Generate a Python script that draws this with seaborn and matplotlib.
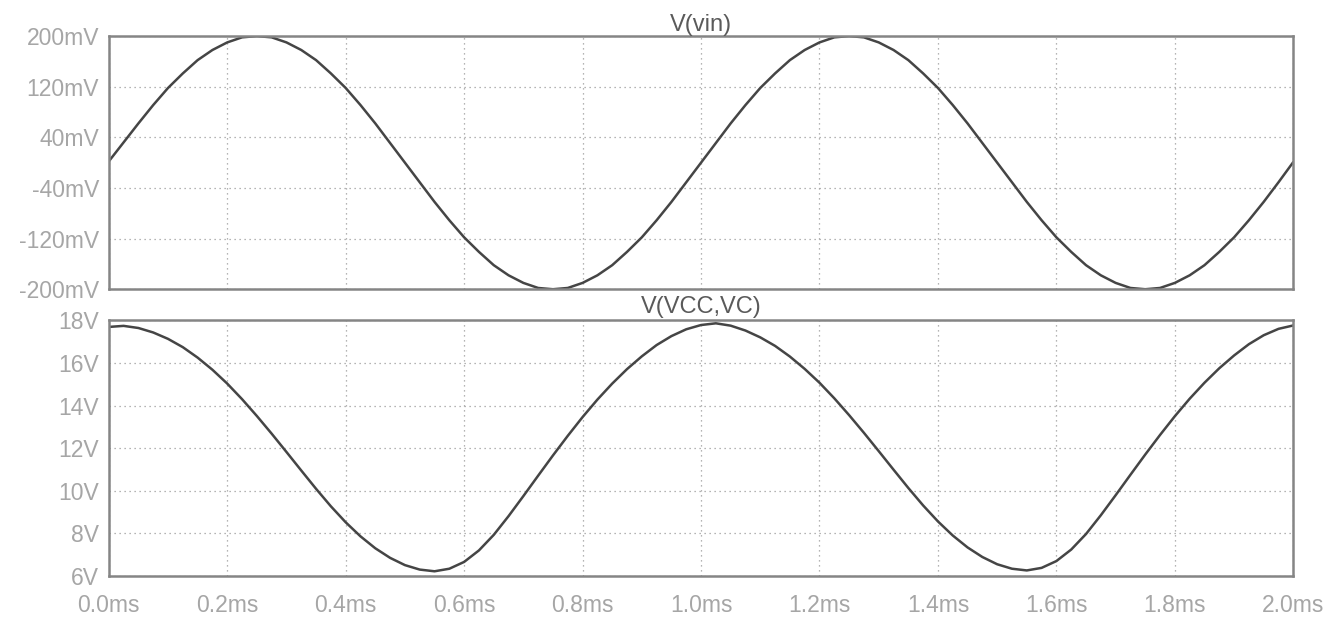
import numpy as np
import pandas as pd
import matplotlib
import seaborn as sns

matplotlib.use('Agg')
import matplotlib.pyplot as plt
from matplotlib.ticker import FuncFormatter

# time axis, ms (0.025 ms steps)
time_ms = [round(i * 0.025, 3) for i in range(81)]

# V(vin) in mV
vin_mv = [
    2, 32, 62, 91, 118, 141, 162, 178, 190, 198,
    200, 198, 190, 178, 162, 141, 118, 91, 62, 31,
    0, -31, -62, -91, -118, -141, -162, -178, -190, -198,
    -200, -198, -190, -178, -162, -141, -118, -91, -62, -31,
    0, 31, 62, 91, 118, 141, 162, 178, 190, 198,
    200, 198, 190, 178, 162, 141, 118, 91, 62, 31,
    0, -31, -62, -91, -118, -141, -162, -178, -190, -198,
    -200, -198, -190, -178, -162, -141, -118, -91, -62, -31,
    1,
]

# V(VCC,VC) in V
vcc_vc = [
    17.69, 17.74, 17.64, 17.43, 17.13, 16.74, 16.25, 15.68, 15.03, 14.30,
    13.51, 12.68, 11.82, 10.95, 10.09, 9.27, 8.52, 7.86, 7.30, 6.85,
    6.51, 6.30, 6.22, 6.34, 6.66, 7.20, 7.93, 8.81, 9.75, 10.71,
    11.66, 12.58, 13.46, 14.28, 15.03, 15.71, 16.31, 16.84, 17.26, 17.58,
    17.78, 17.86, 17.75, 17.52, 17.20, 16.80, 16.30, 15.72, 15.07, 14.34,
    13.55, 12.72, 11.86, 10.99, 10.13, 9.31, 8.56, 7.90, 7.34, 6.89,
    6.55, 6.34, 6.26, 6.38, 6.70, 7.24, 7.97, 8.85, 9.79, 10.75,
    11.70, 12.62, 13.50, 14.32, 15.07, 15.75, 16.35, 16.88, 17.30, 17.60,
    17.76,
]

vin_ticks = [-200, -120, -40, 40, 120, 200]
vcc_ticks = [6, 8, 10, 12, 14, 16, 18]
time_ticks = [0.0, 0.2, 0.4, 0.6, 0.8, 1.0, 1.2, 1.4, 1.6, 1.8, 2.0]

trace_color = '#454545'
frame_color = '#858585'
label_color = '#a6a6a6'
grid_color = '#9c9c9c'


def style_axes(ax, yticks, fmt):
    ax.set_xlim(0, 2.0)
    ax.set_ylim(yticks[0], yticks[-1])
    ax.set_yticks(yticks)
    ax.set_xticks(time_ticks)
    ax.yaxis.set_major_formatter(FuncFormatter(fmt))
    ax.xaxis.set_major_formatter(FuncFormatter(lambda v, p: f'{v:.1f}ms'))
    ax.grid(True, color=grid_color, linestyle=(0, (1, 3)), linewidth=0.9)
    for s in ax.spines.values():
        s.set_color(frame_color)
        s.set_linewidth(1.8)
    ax.tick_params(axis='y', direction='out', length=7, width=1.5, color=frame_color,
                   labelcolor=label_color, labelsize=16.5, pad=0)
    ax.tick_params(axis='x', direction='inout', length=22, width=1.5, color=frame_color,
                   labelcolor=label_color, labelsize=16.5, pad=2)
    ax.set_xlabel('')
    ax.set_ylabel('')


def main():
    sns.set_style('white')
    plt.rcParams['font.family'] = ['Liberation Sans', 'DejaVu Sans']

    df_vin = pd.DataFrame({'t': time_ms, 'v': vin_mv})
    df_vcc = pd.DataFrame({'t': time_ms, 'v': vcc_vc})

    fig = plt.figure(figsize=(13.43, 6.22), dpi=100)
    ax1 = fig.add_axes([0.081, 0.535, 0.882, 0.407])
    ax2 = fig.add_axes([0.081, 0.074, 0.882, 0.411])

    sns.lineplot(data=df_vin, x='t', y='v', ax=ax1, color=trace_color, linewidth=1.8)
    sns.lineplot(data=df_vcc, x='t', y='v', ax=ax2, color=trace_color, linewidth=1.8)

    style_axes(ax1, vin_ticks, lambda v, p: f'{int(v)}mV')
    style_axes(ax2, vcc_ticks, lambda v, p: f'{int(v)}V')
    ax1.tick_params(axis='x', length=0, labelbottom=False)

    ax1.set_title('V(vin)', color='#5a5a5a', fontsize=17, pad=3)
    ax2.set_title('V(VCC,VC)', color='#5a5a5a', fontsize=17, pad=5)

    fig.savefig('out.png', dpi=100, facecolor='white')


if __name__ == '__main__':
    main()
